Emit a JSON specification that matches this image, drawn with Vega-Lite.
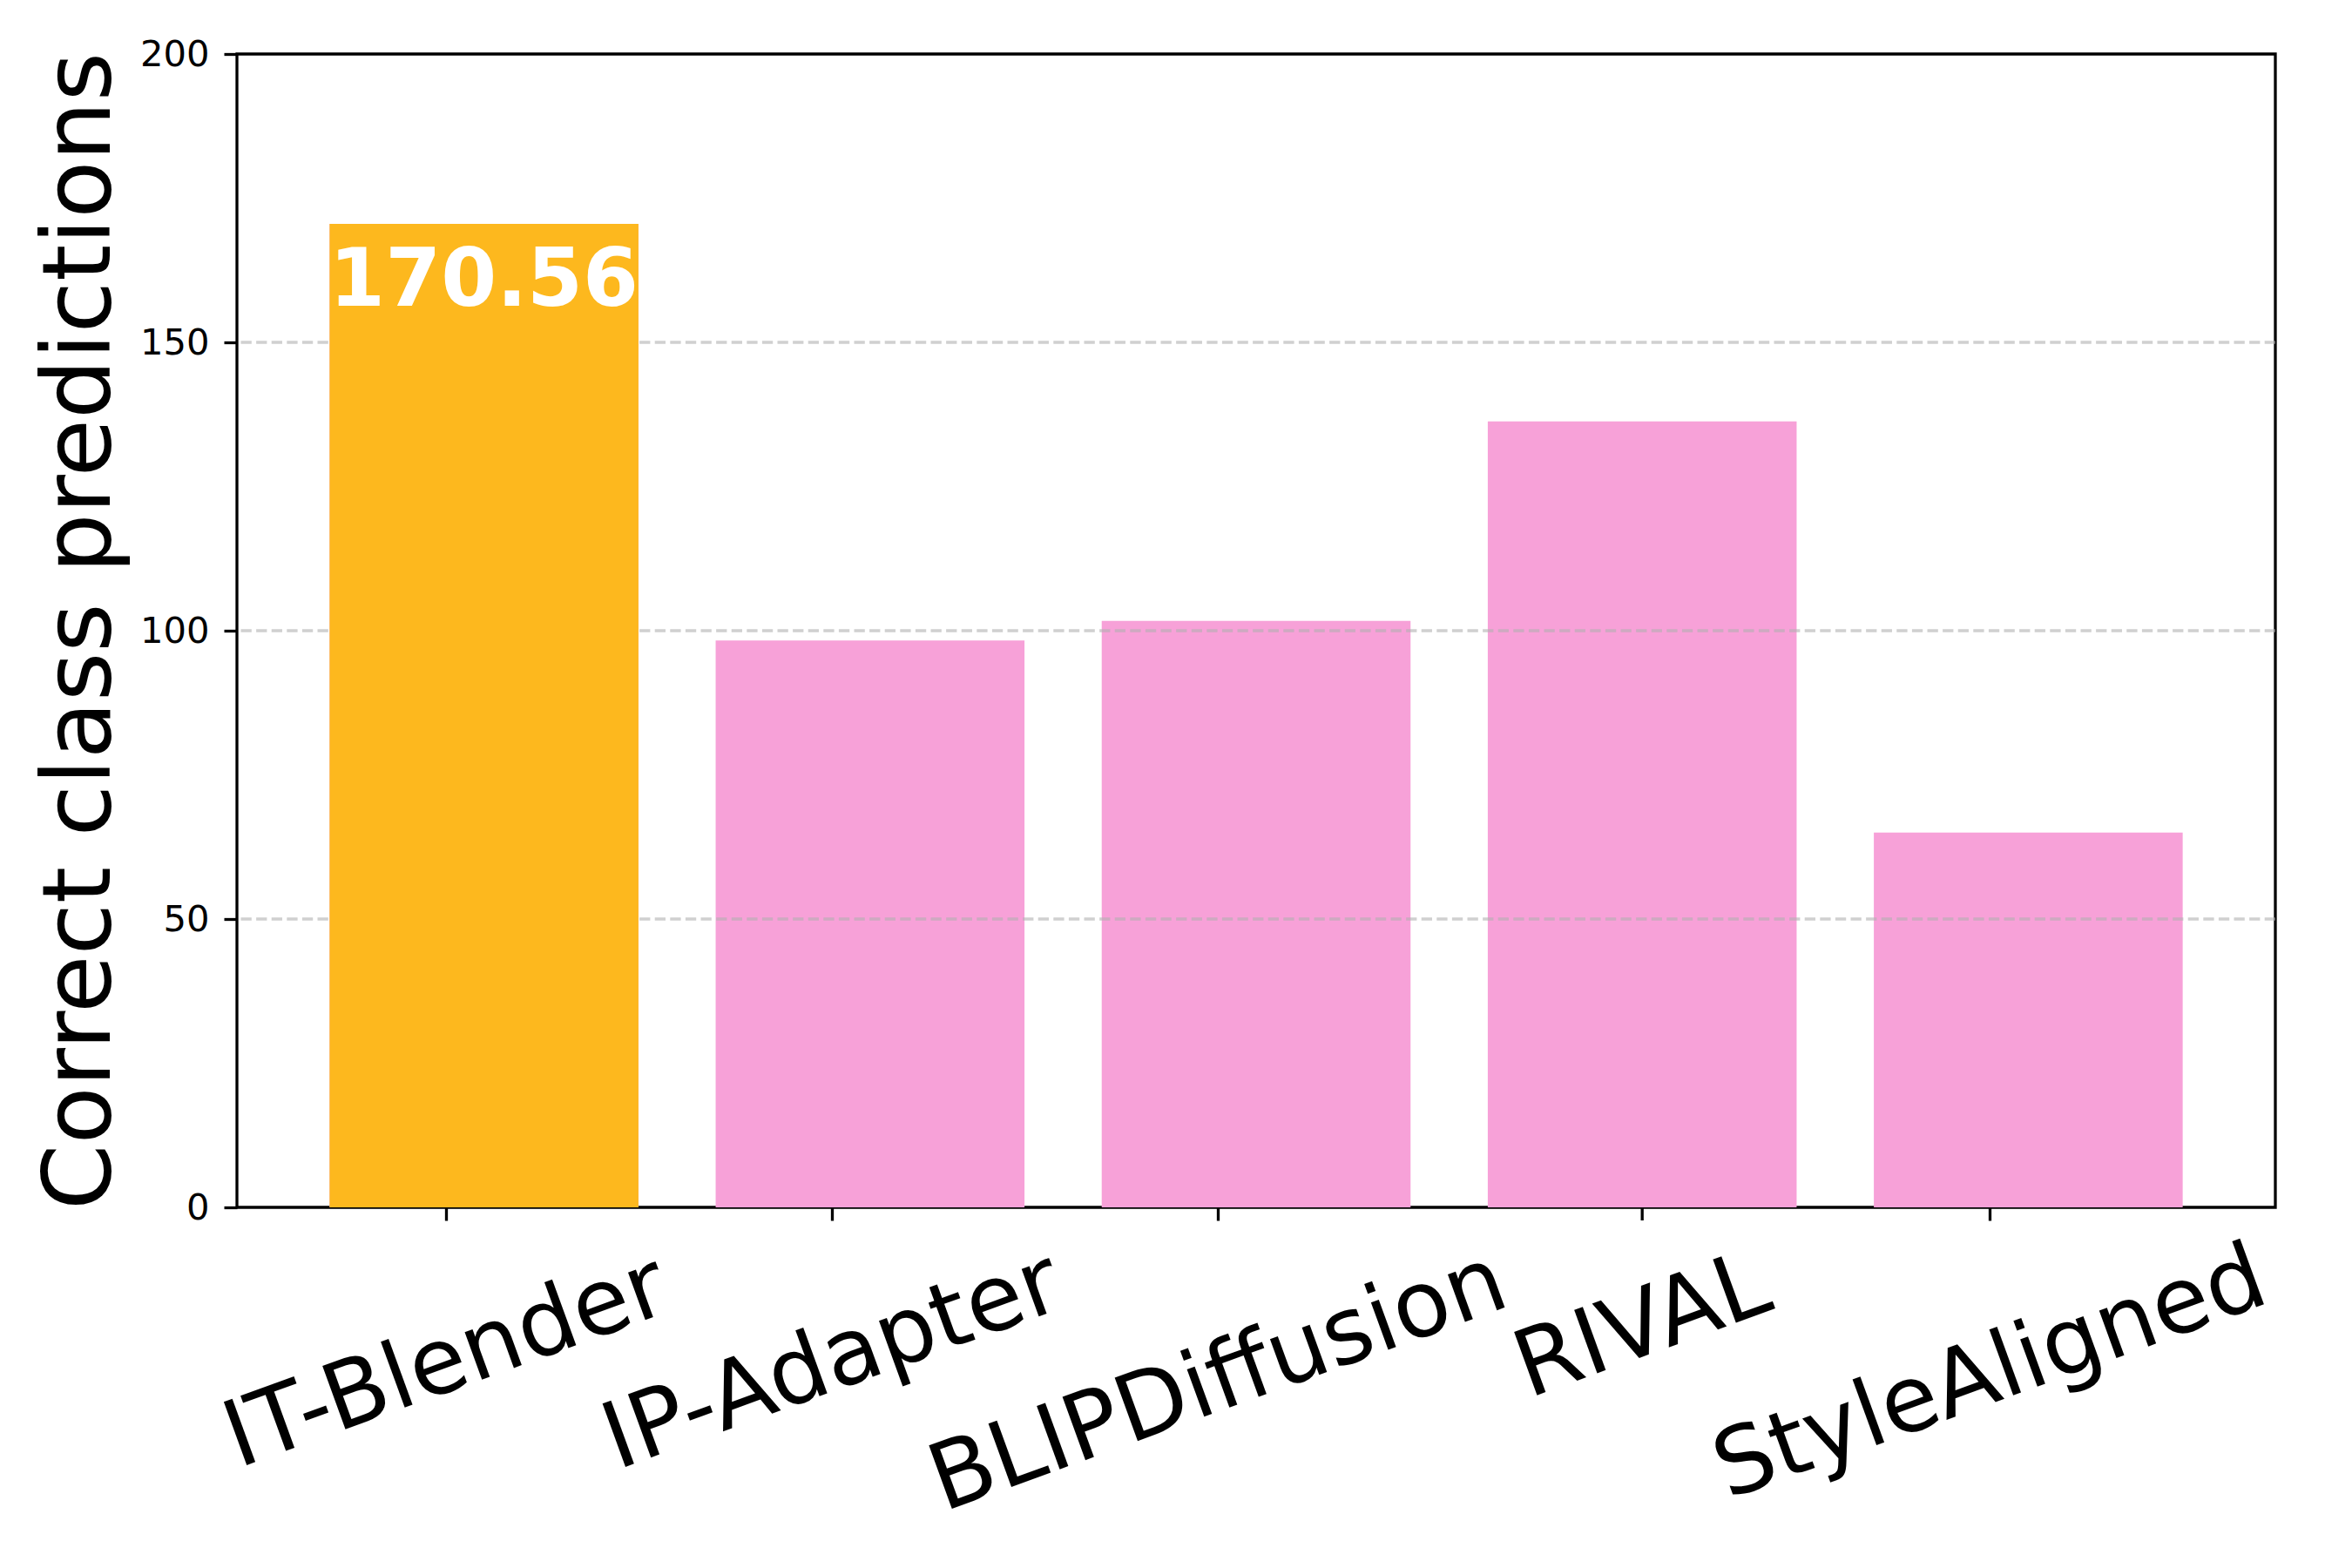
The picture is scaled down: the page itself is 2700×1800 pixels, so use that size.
{
  "$schema": "https://vega.github.io/schema/vega-lite/v6.json",
  "usermeta": {"embedOptions": {"actions": false}},
  "autosize": {"type": "none"},
  "padding": {"left": 272, "top": 62, "right": 88, "bottom": 414},
  "width": 2340,
  "height": 1324,
  "background": "white",
  "config": {
    "font": "DejaVu Sans",
    "view": {"stroke": "black", "strokeWidth": 3.3}
  },
  "datasets": {
    "scores": [
      {"method": "IT-Blender", "value": 170.56},
      {"method": "IP-Adapter", "value": 98.3},
      {"method": "BLIPDiffusion", "value": 101.7},
      {"method": "RIVAL", "value": 136.3},
      {"method": "StyleAligned", "value": 65.0}
    ],
    "gridlines": [
      {"level": 50},
      {"level": 100},
      {"level": 150}
    ]
  },
  "layer": [
    {
      "data": {"name": "scores"},
      "mark": {"type": "bar", "color": "#F7A1D8"},
      "encoding": {
        "x": {
          "field": "method",
          "type": "nominal",
          "sort": null,
          "scale": {
            "domain": ["IT-Blender", "IP-Adapter", "BLIPDiffusion", "RIVAL", "StyleAligned"],
            "paddingInner": 0.2,
            "paddingOuter": 0.24
          },
          "axis": {
            "title": null,
            "domain": false,
            "grid": false,
            "ticks": true,
            "tickSize": 15,
            "tickWidth": 3.3,
            "tickColor": "black",
            "tickOffset": -44,
            "tickOpacity": {
              "condition": {"test": "datum.value === 'RIVAL'", "value": 0},
              "value": 1
            },
            "labelAngle": -20,
            "labelAlign": "center",
            "labelBaseline": "middle",
            "labelFont": "DejaVu Sans",
            "labelFontSize": 106,
            "labelColor": "black",
            "labelLimit": 0,
            "labelOverlap": false,
            "labelBound": false,
            "labelFlush": false,
            "labelOffset": {
              "condition": {"test": "datum.value === 'RIVAL'", "value": 44},
              "value": 0
            },
            "labelPadding": {
              "condition": [
                {"test": "datum.value === 'RIVAL'", "value": 122},
                {"test": "datum.value === 'BLIPDiffusion'", "value": 185},
                {"test": "datum.value === 'StyleAligned'", "value": 176},
                {"test": "datum.value === 'IP-Adapter'", "value": 162}
              ],
              "value": 163
            }
          }
        },
        "y": {
          "field": "value",
          "type": "quantitative",
          "scale": {"domain": [0, 200], "nice": false, "zero": true},
          "axis": {
            "values": [0, 50, 100, 150, 200],
            "domain": false,
            "grid": false,
            "tickSize": 15,
            "tickWidth": 3.3,
            "tickColor": "black",
            "labelFont": "DejaVu Sans",
            "labelFontSize": 41.7,
            "labelColor": "black",
            "labelPadding": 17,
            "title": "Correct class predictions",
            "titleFont": "DejaVu Sans",
            "titleFontSize": 108,
            "titleFontWeight": "normal",
            "titleColor": "black",
            "titleAngle": -90,
            "titleAlign": "center",
            "titleBaseline": "alphabetic",
            "titleX": -147,
            "titleY": 662
          }
        }
      }
    },
    {
      "data": {"name": "gridlines"},
      "mark": {"type": "rule", "color": "#b0b0b0", "opacity": 0.6, "strokeWidth": 3.3, "strokeDash": [12.3, 5.3]},
      "encoding": {
        "y": {"field": "level", "type": "quantitative"}
      }
    },
    {
      "data": {"name": "scores"},
      "transform": [{"filter": "datum.method === 'IT-Blender'"}],
      "mark": {"type": "bar", "color": "#FDB81E"},
      "encoding": {
        "x": {"field": "method", "type": "nominal", "sort": null},
        "y": {"field": "value", "type": "quantitative"}
      }
    },
    {
      "data": {"name": "scores"},
      "transform": [{"filter": "datum.method === 'RIVAL'"}],
      "mark": {"type": "rule", "color": "black", "strokeWidth": 3.3, "y2Offset": 15, "clip": false},
      "encoding": {
        "x": {"field": "method", "type": "nominal", "sort": null},
        "y": {"datum": 0, "type": "quantitative"},
        "y2": {"datum": 0}
      }
    },
    {
      "data": {"name": "scores"},
      "transform": [{"filter": "datum.method === 'IT-Blender'"}],
      "mark": {"type": "text", "color": "white", "font": "DejaVu Sans", "fontWeight": "bold", "fontSize": 92, "align": "center", "baseline": "alphabetic", "dy": 94},
      "encoding": {
        "x": {"field": "method", "type": "nominal", "sort": null},
        "y": {"field": "value", "type": "quantitative"},
        "text": {"field": "value", "type": "quantitative", "format": ".2f"}
      }
    }
  ]
}
